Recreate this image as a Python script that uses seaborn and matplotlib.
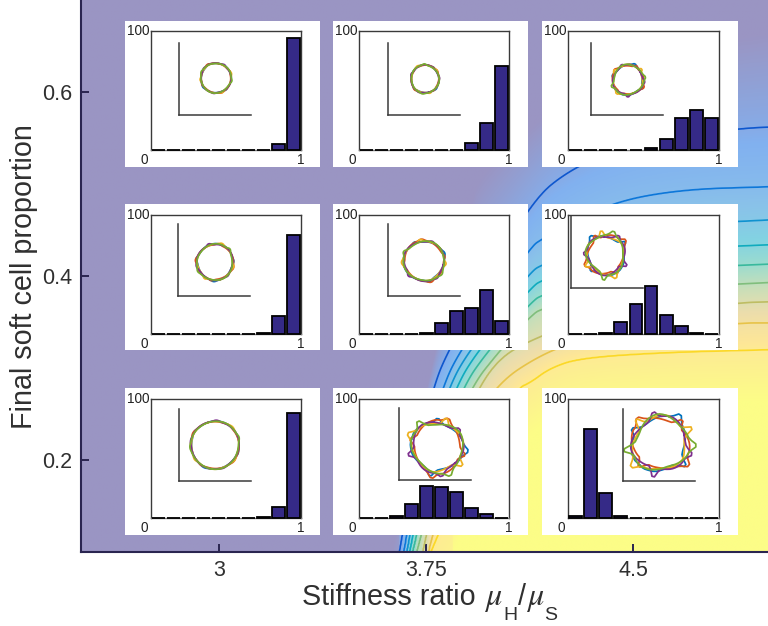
import numpy as np
import matplotlib
matplotlib.use('Agg')
import matplotlib.pyplot as plt
from matplotlib.colors import LinearSegmentedColormap
import seaborn as sns

# histogram values per panel (percent in each of the 10 bins)
bin_centers = [0.05, 0.15, 0.25, 0.35, 0.45, 0.55, 0.65, 0.75, 0.85, 0.95]
hist_top = [
    [0, 0, 0, 0, 0, 0, 0, 0, 5, 94],
    [0, 0, 0, 0, 0, 0, 0, 6, 23, 71],
    [0, 0, 0, 0, 0, 2, 9, 27, 34, 27],
]
hist_mid = [
    [0, 0, 0, 0, 0, 0, 0, 1, 15, 83],
    [0, 0, 0, 0, 1, 9, 19, 22, 37, 11],
    [0, 0, 1, 10, 25, 40, 16, 7, 1, 0],
]
hist_bot = [
    [0, 0, 0, 0, 0, 0, 0, 1, 9, 88],
    [0, 0, 2, 12, 27, 26, 22, 8, 3, 0],
    [2, 75, 21, 2, 0, 0, 0, 0, 0, 0],
]
hist_rows = [hist_top, hist_mid, hist_bot]

# background field: where each contour level runs (x, y in data units), level 0 to 10
level_x = [
    [3.627, 3.674, 3.754, 3.783, 3.909, 3.953, 4.236, 4.525, 5.0],
    [3.652, 3.703, 3.775, 3.830, 4.120, 4.279, 4.525, 4.880, 5.0],
    [3.667, 3.725, 3.808, 3.873, 4.127, 4.174, 4.409, 4.670, 5.0],
    [3.678, 3.739, 3.830, 3.906, 4.127, 4.174, 4.525, 5.0],
    [3.688, 3.754, 3.855, 3.938, 4.127, 4.174, 4.525, 5.0],
    [3.699, 3.772, 3.880, 3.975, 4.127, 4.174, 4.525, 5.0],
    [3.714, 3.793, 3.909, 4.018, 4.127, 4.174, 4.525, 5.0],
    [3.736, 3.801, 3.938, 4.018, 4.120, 4.308, 4.880, 5.0],
    [3.757, 3.837, 3.982, 4.188, 4.380, 4.880, 5.0],
    [3.764, 3.891, 4.080, 4.127, 4.199, 4.308, 4.609, 5.0],
    [3.848, 3.982, 4.236, 4.562, 5.0],
]
level_y = [
    [0.098, 0.188, 0.278, 0.319, 0.478, 0.518, 0.591, 0.646, 0.667],
    [0.098, 0.188, 0.278, 0.319, 0.478, 0.518, 0.547, 0.560, 0.562],
    [0.098, 0.188, 0.278, 0.319, 0.431, 0.441, 0.479, 0.494, 0.497],
    [0.098, 0.188, 0.278, 0.319, 0.404, 0.413, 0.454, 0.461],
    [0.098, 0.188, 0.278, 0.319, 0.386, 0.397, 0.428, 0.434],
    [0.098, 0.188, 0.278, 0.319, 0.370, 0.381, 0.407, 0.413],
    [0.098, 0.188, 0.278, 0.319, 0.356, 0.366, 0.386, 0.393],
    [0.098, 0.188, 0.278, 0.311, 0.329, 0.351, 0.371, 0.372],
    [0.098, 0.188, 0.278, 0.319, 0.335, 0.349, 0.349],
    [0.098, 0.188, 0.278, 0.284, 0.300, 0.311, 0.317, 0.320],
    [0.098, 0.188, 0.253, 0.261, 0.262],
]

# cell outline wobble, one list per colour, 30 angles round the ring
ring_blue = [0.4, 0.5, 0.3, 0.2, -0.1, -0.3, -0.5, -0.2, 1.6, -0.4, -0.6, -0.5, -0.3, 0.0, 0.2,
             0.5, 1.9, 0.5, 0.3, 0.1, -0.2, -0.4, -0.5, -0.3, 1.2, -0.1, 0.2, 0.3, 0.5, 0.6]
ring_orange = [-0.5, -0.3, 0.0, 0.4, 2.0, 0.5, 0.6, 0.5, 0.3, 0.0, -0.3, 1.4, -0.4, -0.5, -0.4,
               -0.2, 0.1, 0.3, 1.7, 0.5, 0.6, 0.4, 0.2, -0.1, -0.3, -0.5, 1.1, -0.6, -0.6, -0.6]
ring_yellow = [0.1, -0.2, -0.4, -0.5, -0.4, 2.1, -0.1, 0.2, 0.4, 0.5, 0.4, 0.2, -0.1, -0.3, 1.8,
               -0.5, -0.4, -0.2, 0.1, 0.3, 0.5, 2.2, 0.3, 0.1, -0.2, -0.4, -0.5, -0.3, -0.1, 0.0]
ring_purple = [-0.3, 0.0, 0.2, 0.4, 0.5, 0.3, 0.1, 1.3, -0.3, -0.5, -0.4, -0.2, 0.1, 0.3, 0.5,
               0.4, 0.2, -0.1, -0.3, -0.5, 1.7, -0.4, -0.2, 0.1, 0.3, 0.4, 0.3, 1.5, -0.1, -0.3]
ring_green = [0.3, 0.5, 0.6, 0.4, 0.1, -0.2, -0.5, -0.7, -0.6, -0.3, 2.3, 0.2, 0.4, 0.5, 0.3,
              0.1, -0.2, -0.4, -0.6, -0.5, -0.2, 0.1, 0.4, 0.6, 2.0, 0.5, 0.3, 0.1, 0.0, 0.1]
ring_devs = [ring_blue, ring_orange, ring_yellow, ring_purple, ring_green]
ring_colors = ['#0072bd', '#d95319', '#edb120', '#7e2f8e', '#77ac30']

# ring centre (from the L axes corner, in px), radius and wobble size, per panel
ring_cx = [[37, 37, 37], [37, 36, 35], [36, 38, 37]]
ring_cy = [[37, 36, 35], [34, 35, 33], [36, 33, 37]]
ring_r = [[15, 14, 15], [18, 20, 19], [24, 25, 27]]
ring_amp = [[0.7, 0.7, 1.6], [1.1, 1.5, 3.5], [0.8, 4.0, 5.5]]
ring_rot = [[0.4, 2.2, 4.1], [1.3, 3.3, 5.2], [0.9, 2.8, 3.9]]
ring_round = [[2, 2, 1], [2, 2, 1], [2, 1, 1]]

# layout in reference pixels
W, H = 768, 626
panel_cols = [(125, 320), (333, 528), (542, 738)]
panel_rows = [(21, 167), (204, 350), (388, 535)]
box_cols = [(151, 301), (359, 509), (568, 719)]
box_rows = [(31, 150), (215, 334), (399, 518)]
l_left = [[179, 388, 591], [178, 388, 571], [179, 399, 623]]
l_bottom = [[115, 115, 115], [296, 296, 288], [481, 480, 481]]

parula = ['#352a87', '#0363e1', '#1485d4', '#06a7c6', '#38b99e', '#92bf73', '#d9bb59', '#fcce2e', '#f9fb0e']
cmap = LinearSegmentedColormap.from_list('parula', parula)
text_color = '#303030'


def px_rect(left, top, right, bottom):
    return [left / W, 1 - bottom / H, (right - left) / W, (bottom - top) / H]


def chaikin(x, y, n, closed=False):
    # corner cutting so hand read polylines come out round
    x, y = np.asarray(x, float), np.asarray(y, float)
    for _ in range(n):
        qx = 0.75 * x[:-1] + 0.25 * x[1:]
        qy = 0.75 * y[:-1] + 0.25 * y[1:]
        rx = 0.25 * x[:-1] + 0.75 * x[1:]
        ry = 0.25 * y[:-1] + 0.75 * y[1:]
        new_x = np.ravel(np.column_stack([qx, rx]))
        new_y = np.ravel(np.column_stack([qy, ry]))
        if closed:
            x, y = np.append(new_x, new_x[0]), np.append(new_y, new_y[0])
        else:
            x = np.concatenate([x[:1], new_x, x[-1:]])
            y = np.concatenate([y[:1], new_y, y[-1:]])
    return x, y


def build_field(xs, ys):
    levels = np.arange(len(level_x))
    curves = [chaikin(lx, ly, 4) for lx, ly in zip(level_x, level_y)]
    z = np.zeros((len(ys), len(xs)))
    for j, x in enumerate(xs):
        heights = [np.interp(x, cx, cy, left=0.0) for cx, cy in curves]
        z[:, j] = np.interp(ys, heights[::-1], levels[::-1])
    return z


def draw_panel(fig, row, col):
    left, right = panel_cols[col]
    top, bottom = panel_rows[row]
    bg = fig.add_axes(px_rect(left, top, right, bottom), facecolor='white')
    bg.set_xticks([])
    bg.set_yticks([])
    sns.despine(ax=bg, left=True, bottom=True)

    left, right = box_cols[col]
    top, bottom = box_rows[row]
    ax = fig.add_axes(px_rect(left, top, right, bottom), facecolor='none')
    sns.barplot(x=bin_centers, y=hist_rows[row][col], native_scale=True, width=0.85,
                color='#352a87', saturation=1, edgecolor='black', linewidth=1.3, ax=ax)
    for bar in ax.patches:
        bar.set_clip_on(False)
        bar.set_zorder(3)
    ax.set_xlim(0, 1)
    ax.set_ylim(0, 100)
    ax.set_xticks([])
    ax.set_yticks([])
    ax.set_xlabel('')
    ax.set_ylabel('')
    for side in ['top', 'right', 'left', 'bottom']:
        ax.spines[side].set_visible(True)
        ax.spines[side].set_linewidth(1.0)
        ax.spines[side].set_color('#3a3a3a')
    ax.spines['bottom'].set_color('#777777')
    ax.text(-0.012, 1.0, '100', transform=ax.transAxes, ha='right', va='center', fontsize=9.8, color='#222222')
    ax.text(-0.02, -0.085, '0', transform=ax.transAxes, ha='right', va='center', fontsize=9.8, color='#222222')
    ax.text(1.0, -0.085, '1', transform=ax.transAxes, ha='center', va='center', fontsize=9.8, color='#222222')

    # the L shaped frame with the cell outlines
    l0 = l_left[row][col]
    b0 = l_bottom[row][col]
    inner = fig.add_axes(px_rect(l0, b0 - 72, l0 + 72, b0), facecolor='none')
    inner.set_xlim(0, 72)
    inner.set_ylim(0, 72)
    inner.set_xticks([])
    inner.set_yticks([])
    inner.spines['top'].set_visible(False)
    inner.spines['right'].set_visible(False)
    for side in ['left', 'bottom']:
        inner.spines[side].set_visible(True)
        inner.spines[side].set_linewidth(1.1)
        inner.spines[side].set_color('#3a3a3a')
    cx = ring_cx[row][col]
    cy = ring_cy[row][col]
    r0 = ring_r[row][col]
    amp = ring_amp[row][col]
    for i, (dev, colour) in enumerate(zip(ring_devs, ring_colors)):
        dev = np.array(dev + dev[:1])
        angles = np.linspace(0, 2 * np.pi, len(dev)) + ring_rot[row][col] + i * 0.9
        radius = r0 + amp * dev
        px, py = chaikin(cx + radius * np.cos(angles), cy + radius * np.sin(angles),
                         ring_round[row][col], closed=True)
        inner.plot(px, py, color=colour, lw=1.25, solid_joinstyle='round', clip_on=False)


sns.set_style('ticks')
plt.rcParams['font.family'] = ['Liberation Sans', 'DejaVu Sans']

fig = plt.figure(figsize=(W / 100, H / 100), dpi=100)
ax = fig.add_axes(px_rect(81, 0, 768, 552))

xs = np.linspace(2.5, 5.0, 900)
ys = np.linspace(0.1, 0.7, 700)
field = build_field(xs, ys)
ax.imshow(field, origin='lower', extent=[2.5, 5.0, 0.1, 0.7], aspect='auto',
          cmap=cmap, vmin=0, vmax=10, alpha=0.5, interpolation='bilinear')
ax.contour(xs, ys, field, levels=np.arange(1, 10), cmap=cmap, vmin=0, vmax=10, linewidths=1.2)

ax.set_xlim(2.5, 4.989)
ax.set_ylim(0.1, 0.7)
ax.set_xticks([3, 3.75, 4.5])
ax.set_xticklabels(['3', '3.75', '4.5'])
ax.set_yticks([0.2, 0.4, 0.6])
ax.set_yticklabels(['0.2', '0.4', '0.6'])
ax.tick_params(direction='in', length=5.8, width=1.4, color='#2a2550', labelsize=15.5,
               labelcolor=text_color, top=False, right=False, pad=6)
sns.despine(ax=ax)
ax.spines['left'].set_linewidth(1.5)
ax.spines['left'].set_color('#2a2550')
ax.spines['bottom'].set_linewidth(1.5)
ax.spines['bottom'].set_color('#2a2550')

# axis titles, set piece by piece because the subscripts sit low and large
fig.text(302 / W, 1 - 605 / H, 'Stiffness ratio', fontsize=20.7, color=text_color, va='baseline')
mu_font = dict(family='STIXGeneral', style='italic', fontsize=23, color=text_color, va='baseline')
fig.text(485 / W, 1 - 605 / H, '\u03bc', **mu_font)
fig.text(503 / W, 1 - 620 / H, 'H', fontsize=14, color=text_color, va='baseline')
fig.text(518 / W, 1 - 605 / H, '/', fontsize=20.7, color=text_color, va='baseline')
fig.text(527 / W, 1 - 605 / H, '\u03bc', **mu_font)
fig.text(544 / W, 1 - 620 / H, 'S', fontsize=14, color=text_color, va='baseline')
fig.text(32 / W, 1 - 276.5 / H, 'Final soft cell proportion', fontsize=20.7, color=text_color,
         rotation=90, rotation_mode='anchor', ha='center', va='baseline')

for row in range(3):
    for col in range(3):
        draw_panel(fig, row, col)

fig.savefig('out.png', dpi=100)
